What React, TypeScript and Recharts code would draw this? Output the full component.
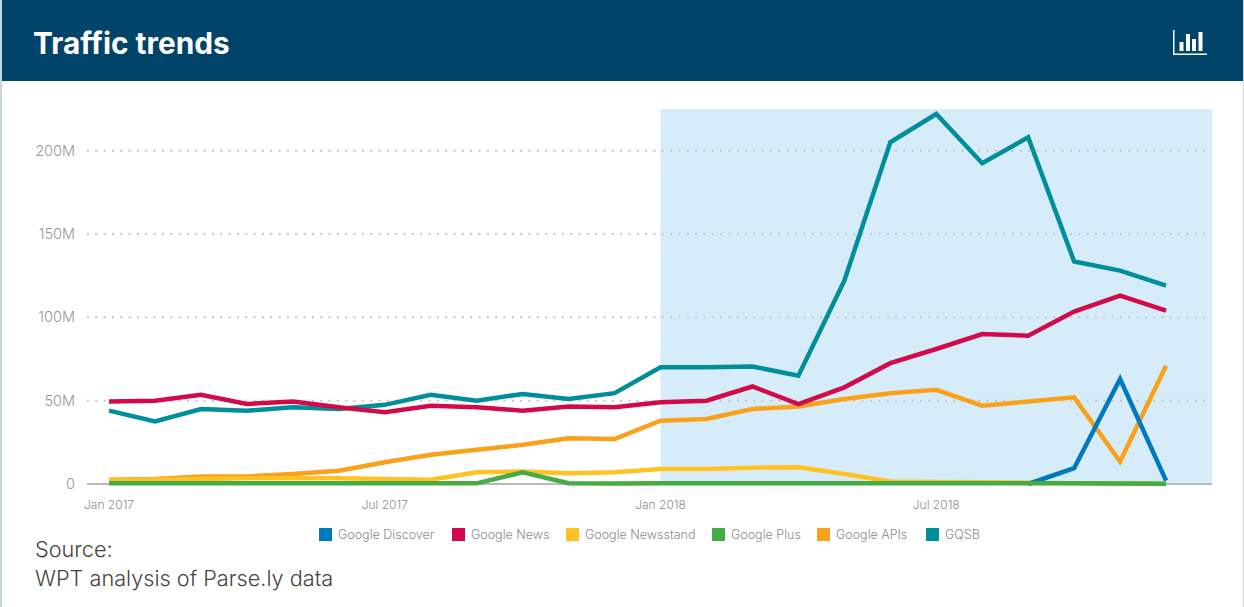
import React from 'react';
import {
  LineChart,
  Line,
  XAxis,
  YAxis,
  ReferenceArea,
  ReferenceLine,
  Legend,
} from 'recharts';

const FONT = 'Inter, Lato, sans-serif';

const months = [
  'Jan 2017', 'Feb 2017', 'Mar 2017', 'Apr 2017', 'May 2017', 'Jun 2017',
  'Jul 2017', 'Aug 2017', 'Sep 2017', 'Oct 2017', 'Nov 2017', 'Dec 2017',
  'Jan 2018', 'Feb 2018', 'Mar 2018', 'Apr 2018', 'May 2018', 'Jun 2018',
  'Jul 2018', 'Aug 2018', 'Sep 2018', 'Oct 2018', 'Nov 2018', 'Dec 2018',
];

// all values in millions of page views
const gqsb = [44, 37.5, 45, 44, 46, 45, 47.5, 53.5, 50, 54, 51, 54.5, 70, 70, 70.5, 65, 122, 205, 222, 192.5, 208, 133.5, 128, 119];
const googleNews = [49.5, 50, 53.5, 48, 49.5, 46, 43, 47, 46, 44, 46.5, 46, 49, 50, 58.5, 48, 58, 72.5, 81, 90, 89, 103.5, 113, 104];
const googleApis = [2.5, 3, 4.5, 4.5, 6, 8, 13, 17.5, 20.5, 23.5, 27.5, 27, 38, 39, 45, 46.5, 51, 54.5, 56.5, 47, 49.5, 52, 13.5, 71];
const newsstand = [2, 2.5, 3, 3.5, 3.5, 3.5, 3, 2.5, 7, 7.5, 6.5, 7, 9, 9, 9.8, 10, 6, 1.5, 1.2, 1, 0.8, 0.5, 0.3, 0.2];
const discover = [null, null, null, null, null, null, null, null, null, null, null, null, null, null, null, null, null, null, null, null, 0, 9.5, 63, 2];
const googlePlus = [0.5, 0.5, 0.5, 0.4, 0.4, 0.4, 0.4, 0.4, 0.4, 7, 0.5, 0.3, 0.4, 0.4, 0.4, 0.4, 0.4, 0.4, 0.4, 0.4, 0.4, 0.4, 0.3, 0.2];

const yTicks = [0, 50, 100, 150, 200];
const xTicks = [0, 6, 12, 18];

const chartData = months.map((month, i) => ({
  i,
  month,
  gqsb: gqsb[i],
  googleNews: googleNews[i],
  googleApis: googleApis[i],
  newsstand: newsstand[i],
  discover: discover[i],
  googlePlus: googlePlus[i],
}));

const legendItems = [
  { name: 'Google Discover', color: '#0079c1', width: 133 },
  { name: 'Google News', color: '#d20a4b', width: 114 },
  { name: 'Google Newsstand', color: '#ffc222', width: 146 },
  { name: 'Google Plus', color: '#46ab42', width: 105 },
  { name: 'Google APIs', color: '#f9a11b', width: 109 },
  { name: 'GQSB', color: '#008e9a', width: 60 },
];

const ChartLegend = () => (
  <div style={{ display: 'flex', fontFamily: FONT, fontWeight: 300, fontSize: 12.5, color: '#8c8c8c', whiteSpace: 'nowrap' }}>
    {legendItems.map((item) => (
      <div key={item.name} style={{ display: 'flex', alignItems: 'center', width: item.width }}>
        <span style={{ width: 13, height: 13, background: item.color, marginRight: 6 }} />
        {item.name}
      </div>
    ))}
  </div>
);

const line = (key: string, name: string, color: string) => (
  <Line
    type="linear"
    dataKey={key}
    name={name}
    stroke={color}
    strokeWidth={4.5}
    dot={false}
    isAnimationActive={false}
  />
);

export default function App() {
  return (
    <div style={{ position: 'absolute', left: 0, top: 0, width: 1244, height: 607, background: '#fff', overflow: 'hidden' }}>
      <div style={{ position: 'absolute', left: 0, top: 0, width: 2, height: 607, background: '#c9d6dd' }} />
      <div style={{ position: 'absolute', right: 0, top: 0, width: 1, height: 607, background: '#c9d6dd' }} />
      <div style={{ position: 'absolute', left: 2, top: 0, width: 1241, height: 81, background: '#00446a' }}>
        <div style={{ position: 'absolute', left: 31, top: 25, color: '#fff', fontFamily: FONT, fontWeight: 700, fontSize: 29.8, lineHeight: '36px' }}>
          Traffic trends
        </div>
        <svg style={{ position: 'absolute', left: 1171, top: 30 }} width={36} height={26}>
          <rect x={0} y={0} width={1.5} height={25} fill="#fff" />
          <rect x={0} y={23.5} width={34} height={1.5} fill="#fff" />
          <rect x={6.5} y={12} width={4} height={9} fill="#fff" />
          <rect x={13} y={4} width={4} height={17} fill="#fff" />
          <rect x={19} y={9} width={4} height={12} fill="#fff" />
          <rect x={25.5} y={2} width={4} height={19} fill="#fff" />
        </svg>
      </div>

      <div style={{ position: 'absolute', left: 0, top: 0 }}>
        <LineChart
          width={1244}
          height={607}
          data={chartData}
          margin={{ top: 109, right: 32, bottom: 78, left: 0 }}
        >
          <ReferenceArea x1={12} x2={24} y1={0} y2={225} fill="#d6edf9" fillOpacity={1} stroke="none" />
          {yTicks.slice(1).map((y) => (
            <ReferenceLine
              key={y}
              segment={[{ x: -0.48, y }, { x: 23.85, y }]}
              stroke="#c4c4c4"
              strokeWidth={2}
              strokeDasharray="2 6.33"
            />
          ))}
          <XAxis
            dataKey="i"
            type="number"
            domain={[-0.48, 24]}
            ticks={xTicks}
            tickFormatter={(v: number) => months[v]}
            axisLine={false}
            tickLine={false}
            tickMargin={10}
            tick={{ fontFamily: FONT, fontWeight: 300, fontSize: 12, fill: '#8c8c8c' }}
          />
          <YAxis
            type="number"
            domain={[0, 225]}
            ticks={yTicks}
            width={87}
            tickFormatter={(v: number) => (v === 0 ? '0' : `${v}M`)}
            axisLine={false}
            tickLine={false}
            tickMargin={6}
            tick={{ fontFamily: FONT, fontWeight: 300, fontSize: 14.5, fill: '#969696' }}
          />
          <ReferenceLine y={0} stroke="#b9b9bd" strokeWidth={2} />
          {line('gqsb', 'GQSB', '#008e9a')}
          {line('googleApis', 'Google APIs', '#f9a11b')}
          {line('newsstand', 'Google Newsstand', '#ffc222')}
          {line('googleNews', 'Google News', '#d20a4b')}
          {line('discover', 'Google Discover', '#0079c1')}
          {line('googlePlus', 'Google Plus', '#46ab42')}
          <Legend content={<ChartLegend />} wrapperStyle={{ left: 319, top: 527, width: 700 }} />
        </LineChart>
      </div>

      <div style={{ position: 'absolute', left: 35, top: 535, fontFamily: FONT, fontWeight: 300, fontSize: 21.7, lineHeight: '29px', color: '#444' }}>
        Source:
        <br />
        WPT analysis of Parse.ly data
      </div>
    </div>
  );
}
